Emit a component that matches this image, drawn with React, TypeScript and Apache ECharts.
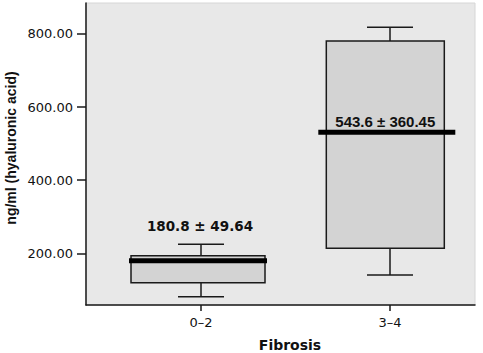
import React, { useEffect, useRef } from "react";
import * as echarts from "echarts";

// ---- data ----
const categories = ["0–2", "3–4"];
const whiskerLow = [81.3, 140.6];
const quartile1 = [119.6, 213.7];
const medians = [179.8, 531.0];
const quartile3 = [193.4, 780.8];
const whiskerHigh = [224.6, 818.3];
const means = [180.8, 543.6];
const sds = [49.64, 360.45];
const yTickValues = [200, 400, 600, 800];
const xTitle = "Fibrosis";
const yTitle = "ng/ml (hyaluronic acid)";

// ---- styling constants (pixels) ----
const BOX_W = [134, 118];
const BOX_DX = [-3, -4.7];
const MED_W = [138, 137];
const MED_DX = [-3, -3.2];
const CAP_W = 46;
const LABEL_DX = [-1, -4.7];
const LABEL_DY = [-34, -6];
const LABEL_FONT = [
  'bold 13.5px "DejaVu Sans"',
  'bold 15px "Liberation Sans"',
];

export default function App() {
  const ref = useRef<HTMLDivElement>(null);

  useEffect(() => {
    document.body.style.margin = "0";
    if (!ref.current) return;
    const chart = echarts.init(ref.current, null, { renderer: "svg" });

    const data = categories.map((c, i) => [
      i + 1,
      whiskerLow[i],
      quartile1[i],
      medians[i],
      quartile3[i],
      whiskerHigh[i],
      means[i],
      sds[i],
    ]);

    const renderItem = (params: any, api: any) => {
      const i = params.dataIndex;
      const x = api.value(0);
      const pLow = api.coord([x, api.value(1)]);
      const pQ1 = api.coord([x, api.value(2)]);
      const pMed = api.coord([x, api.value(3)]);
      const pQ3 = api.coord([x, api.value(4)]);
      const pHigh = api.coord([x, api.value(5)]);
      const pMean = api.coord([x, api.value(6)]);
      const cx = pLow[0];
      const stroke = { stroke: "#1a1a1a", lineWidth: 1.5 };
      const boxCx = cx + BOX_DX[i];
      const medCx = cx + MED_DX[i];
      const label =
        api.value(6).toFixed(1) + " ± " + api.value(7).toFixed(2);
      return {
        type: "group",
        children: [
          { type: "line", shape: { x1: cx, y1: pHigh[1], x2: cx, y2: pQ3[1] }, style: stroke },
          { type: "line", shape: { x1: cx, y1: pLow[1], x2: cx, y2: pQ1[1] }, style: stroke },
          { type: "line", shape: { x1: cx - CAP_W / 2, y1: pHigh[1], x2: cx + CAP_W / 2, y2: pHigh[1] }, style: stroke },
          { type: "line", shape: { x1: cx - CAP_W / 2, y1: pLow[1], x2: cx + CAP_W / 2, y2: pLow[1] }, style: stroke },
          {
            type: "rect",
            shape: { x: boxCx - BOX_W[i] / 2, y: pQ3[1], width: BOX_W[i], height: pQ1[1] - pQ3[1] },
            style: { fill: "#d3d3d3", stroke: "#1a1a1a", lineWidth: 1.5 },
          },
          {
            type: "line",
            shape: { x1: medCx - MED_W[i] / 2, y1: pMed[1], x2: medCx + MED_W[i] / 2, y2: pMed[1] },
            style: { stroke: "#000", lineWidth: 5 },
          },
          {
            type: "text",
            style: {
              text: label,
              x: cx + LABEL_DX[i],
              y: pMean[1] + LABEL_DY[i],
              align: "center",
              verticalAlign: "middle",
              font: LABEL_FONT[i],
              fill: "#111",
            },
          },
        ],
      };
    };

    chart.setOption({
      animation: false,
      backgroundColor: "#ffffff",
      grid: {
        left: 86,
        right: 8,
        top: 3,
        bottom: 48,
        show: true,
        backgroundColor: "#e8e8e8",
        borderColor: "#d6d6d6",
        borderWidth: 1,
      },
      graphic: [
        {
          type: "text",
          x: 290,
          y: 345,
          style: {
            text: xTitle,
            align: "center",
            verticalAlign: "middle",
            font: 'bold 14px "DejaVu Sans"',
            fill: "#111",
          },
        },
        {
          type: "text",
          x: 11,
          y: 148,
          rotation: Math.PI / 2,
          style: {
            text: yTitle,
            align: "center",
            verticalAlign: "middle",
            font: 'bold 14px "Liberation Sans"',
            fill: "#111",
          },
        },
      ],
      xAxis: {
        type: "value",
        min: 0.3915,
        max: 2.4497,
        splitLine: { show: false },
        axisLine: { show: true, onZero: false, lineStyle: { color: "#1a1a1a", width: 1.5 } },
        axisTick: { show: true, customValues: [1, 2], length: 6, lineStyle: { color: "#1a1a1a", width: 1.5 } },
        axisLabel: {
          customValues: [1, 2],
          formatter: (v: number) => categories[Math.round(v) - 1] ?? "",
          margin: 11,
          fontFamily: "DejaVu Sans",
          fontSize: 13,
          color: "#111",
        },
      },
      yAxis: {
        type: "value",
        min: 58.55,
        max: 884.8,
        splitLine: { show: false },
        axisLine: { show: true, onZero: false, lineStyle: { color: "#1a1a1a", width: 1.5 } },
        axisTick: { show: true, customValues: yTickValues, length: 9, lineStyle: { color: "#1a1a1a", width: 1.5 } },
        axisLabel: {
          customValues: yTickValues,
          formatter: (v: number) => v.toFixed(2),
          margin: 13,
          fontFamily: "DejaVu Sans",
          fontSize: 13,
          color: "#111",
        },
      },
      series: [
        {
          type: "custom",
          renderItem,
          data,
          encode: { x: 0, y: [1, 2, 3, 4, 5] },
          clip: false,
        },
      ],
    });

    return () => chart.dispose();
  }, []);

  return <div ref={ref} style={{ width: 483, height: 353 }} />;
}
